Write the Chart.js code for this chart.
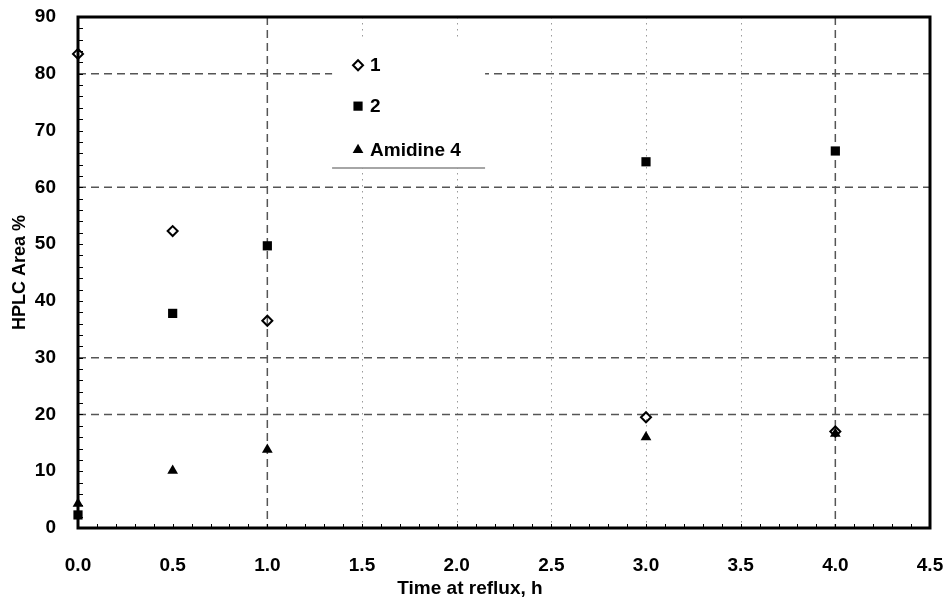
<!DOCTYPE html>
<html>
<head>
<meta charset="utf-8">
<script src="https://cdn.jsdelivr.net/npm/chart.js@4.4.1/dist/chart.umd.min.js"></script>
<style>
  html, body { margin: 0; padding: 0; background: #fff; }
</style>
</head>
<body>
<canvas id="hplcChart" width="947" height="601"></canvas>
<script>
// values
const times = [0.0, 0.5, 1.0, 3.0, 4.0];
const compound1 = [83.5, 52.3, 36.5, 19.5, 17.0];
const compound2 = [2.3, 37.8, 49.7, 64.5, 66.4];
const amidine4 = [4.3, 10.1, 13.8, 16.0, 16.6];
const seriesNames = ['1', '2', 'Amidine 4'];
const xTitle = 'Time at reflux, h';
const yTitle = 'HPLC Area %';

// which grid lines show up, and how
const dashedX = [1.0, 4.0];
const dottedX = [1.5, 2.0, 2.5, 3.0, 3.5];
const dashedY = [20, 30, 60, 80];

const FONT = '"Liberation Sans", Arial, sans-serif';

function toPoints(vals) {
    return times.map((t, i) => ({ x: t, y: vals[i] }));
}

function line(ctx, x1, y1, x2, y2) {
    ctx.beginPath();
    ctx.moveTo(x1, y1);
    ctx.lineTo(x2, y2);
    ctx.stroke();
}

const framePlugin = {
    id: 'frame',
    beforeDatasetsDraw(chart) {
        const ctx = chart.ctx;
        const a = chart.chartArea;
        const x = chart.scales.x, y = chart.scales.y;
        ctx.save();

        ctx.strokeStyle = '#9a9a9a';
        ctx.lineWidth = 1;
        ctx.setLineDash([1.5, 4.5]);
        dottedX.forEach(v => {
            const px = Math.round(x.getPixelForValue(v)) + 0.5;
            line(ctx, px, a.top, px, a.bottom);
        });

        ctx.strokeStyle = '#555';
        ctx.lineWidth = 1.5;
        ctx.setLineDash([8, 5]);
        dashedX.forEach(v => {
            const px = x.getPixelForValue(v);
            line(ctx, px, a.top, px, a.bottom);
        });
        dashedY.forEach(v => {
            const py = y.getPixelForValue(v);
            line(ctx, a.left, py, a.right, py);
        });
        ctx.setLineDash([]);

        // legend panel sits over the grid
        const lx = x.getPixelForValue(1.342), rx = x.getPixelForValue(2.15);
        const ty = y.getPixelForValue(86.3), by = y.getPixelForValue(63.4);
        ctx.fillStyle = '#fff';
        ctx.fillRect(lx, ty, rx - lx, by - ty);
        ctx.strokeStyle = '#888';
        ctx.lineWidth = 1.5;
        line(ctx, lx, by, rx, by);

        const rows = [81.5, 74.3, 66.6];
        chart.data.datasets.forEach((ds, i) => {
            const py = y.getPixelForValue(rows[i]);
            const mx = x.getPixelForValue(1.479);
            ctx.fillStyle = ds.backgroundColor;
            ctx.strokeStyle = ds.borderColor;
            ctx.lineWidth = ds.borderWidth;
            Chart.helpers.drawPoint(ctx, {
                pointStyle: ds.pointStyle, radius: ds.pointRadius,
                borderWidth: ds.borderWidth, rotation: 0
            }, mx, py);
            ctx.fillStyle = '#000';
            ctx.font = 'bold 19px ' + FONT;
            ctx.textBaseline = 'middle';
            ctx.fillText(ds.label, mx + 12, py + 1);
        });

        // minor ticks, pointing inward
        ctx.strokeStyle = '#000';
        ctx.lineWidth = 1;
        for (let v = 2; v < 90; v += 2) {
            const py = Math.round(y.getPixelForValue(v)) + 0.5;
            line(ctx, a.left, py, a.left + 5, py);
        }
        for (let k = 1; k < 45; k++) {
            const px = Math.round(x.getPixelForValue(k / 10)) + 0.5;
            line(ctx, px, a.bottom, px, a.bottom - 4);
        }

        // box
        ctx.strokeStyle = '#000';
        ctx.lineWidth = 3;
        ctx.strokeRect(a.left, a.top, a.right - a.left, a.bottom - a.top);

        // x axis title, sits a little left of centre in the original
        ctx.fillStyle = '#000';
        ctx.font = 'bold 19px ' + FONT;
        ctx.textAlign = 'center';
        ctx.textBaseline = 'middle';
        ctx.fillText(xTitle, 470, 589);
        ctx.restore();
    }
};

new Chart(document.getElementById('hplcChart'), {
    type: 'scatter',
    data: {
        datasets: [
            {
                label: seriesNames[0], data: toPoints(compound1),
                pointStyle: 'rectRot', pointRadius: 5, borderWidth: 2,
                borderColor: '#000', backgroundColor: 'rgba(0,0,0,0)'
            },
            {
                label: seriesNames[1], data: toPoints(compound2),
                pointStyle: 'rect', pointRadius: 6.5, borderWidth: 0,
                borderColor: '#000', backgroundColor: '#000'
            },
            {
                label: seriesNames[2], data: toPoints(amidine4),
                pointStyle: 'triangle', pointRadius: 6.2, borderWidth: 0,
                borderColor: '#000', backgroundColor: '#000'
            }
        ]
    },
    options: {
        responsive: false,
        animation: false,
        clip: false,
        layout: { padding: { top: 17, right: 17, left: 0, bottom: 0 } },
        plugins: {
            legend: { display: false },
            tooltip: { enabled: false }
        },
        elements: { point: { hoverRadius: 6 } },
        scales: {
            x: {
                type: 'linear', min: 0, max: 4.5,
                grid: { display: false },
                border: { display: false },
                ticks: {
                    stepSize: 0.5, padding: 18, color: '#000',
                    font: { family: FONT, size: 19, weight: 'bold' },
                    callback: v => Number(v).toFixed(1)
                },
                afterFit: s => {
                    s.height = 73;
                    s.paddingLeft = 0;
                    s.paddingRight = 0;
                }
            },
            y: {
                min: 0, max: 90,
                grid: { display: false },
                border: { display: false },
                ticks: {
                    stepSize: 10, padding: 14, color: '#000',
                    font: { family: FONT, size: 19, weight: 'bold' }
                },
                title: {
                    display: true, text: yTitle, color: '#000',
                    font: { family: FONT, size: 18, weight: 'bold' },
                    padding: { top: 9, bottom: 0 }
                },
                afterFit: s => {
                    s.width = 78;
                    s.paddingTop = 0;
                    s.paddingBottom = 0;
                }
            }
        }
    },
    plugins: [framePlugin]
});
</script>
</body>
</html>
